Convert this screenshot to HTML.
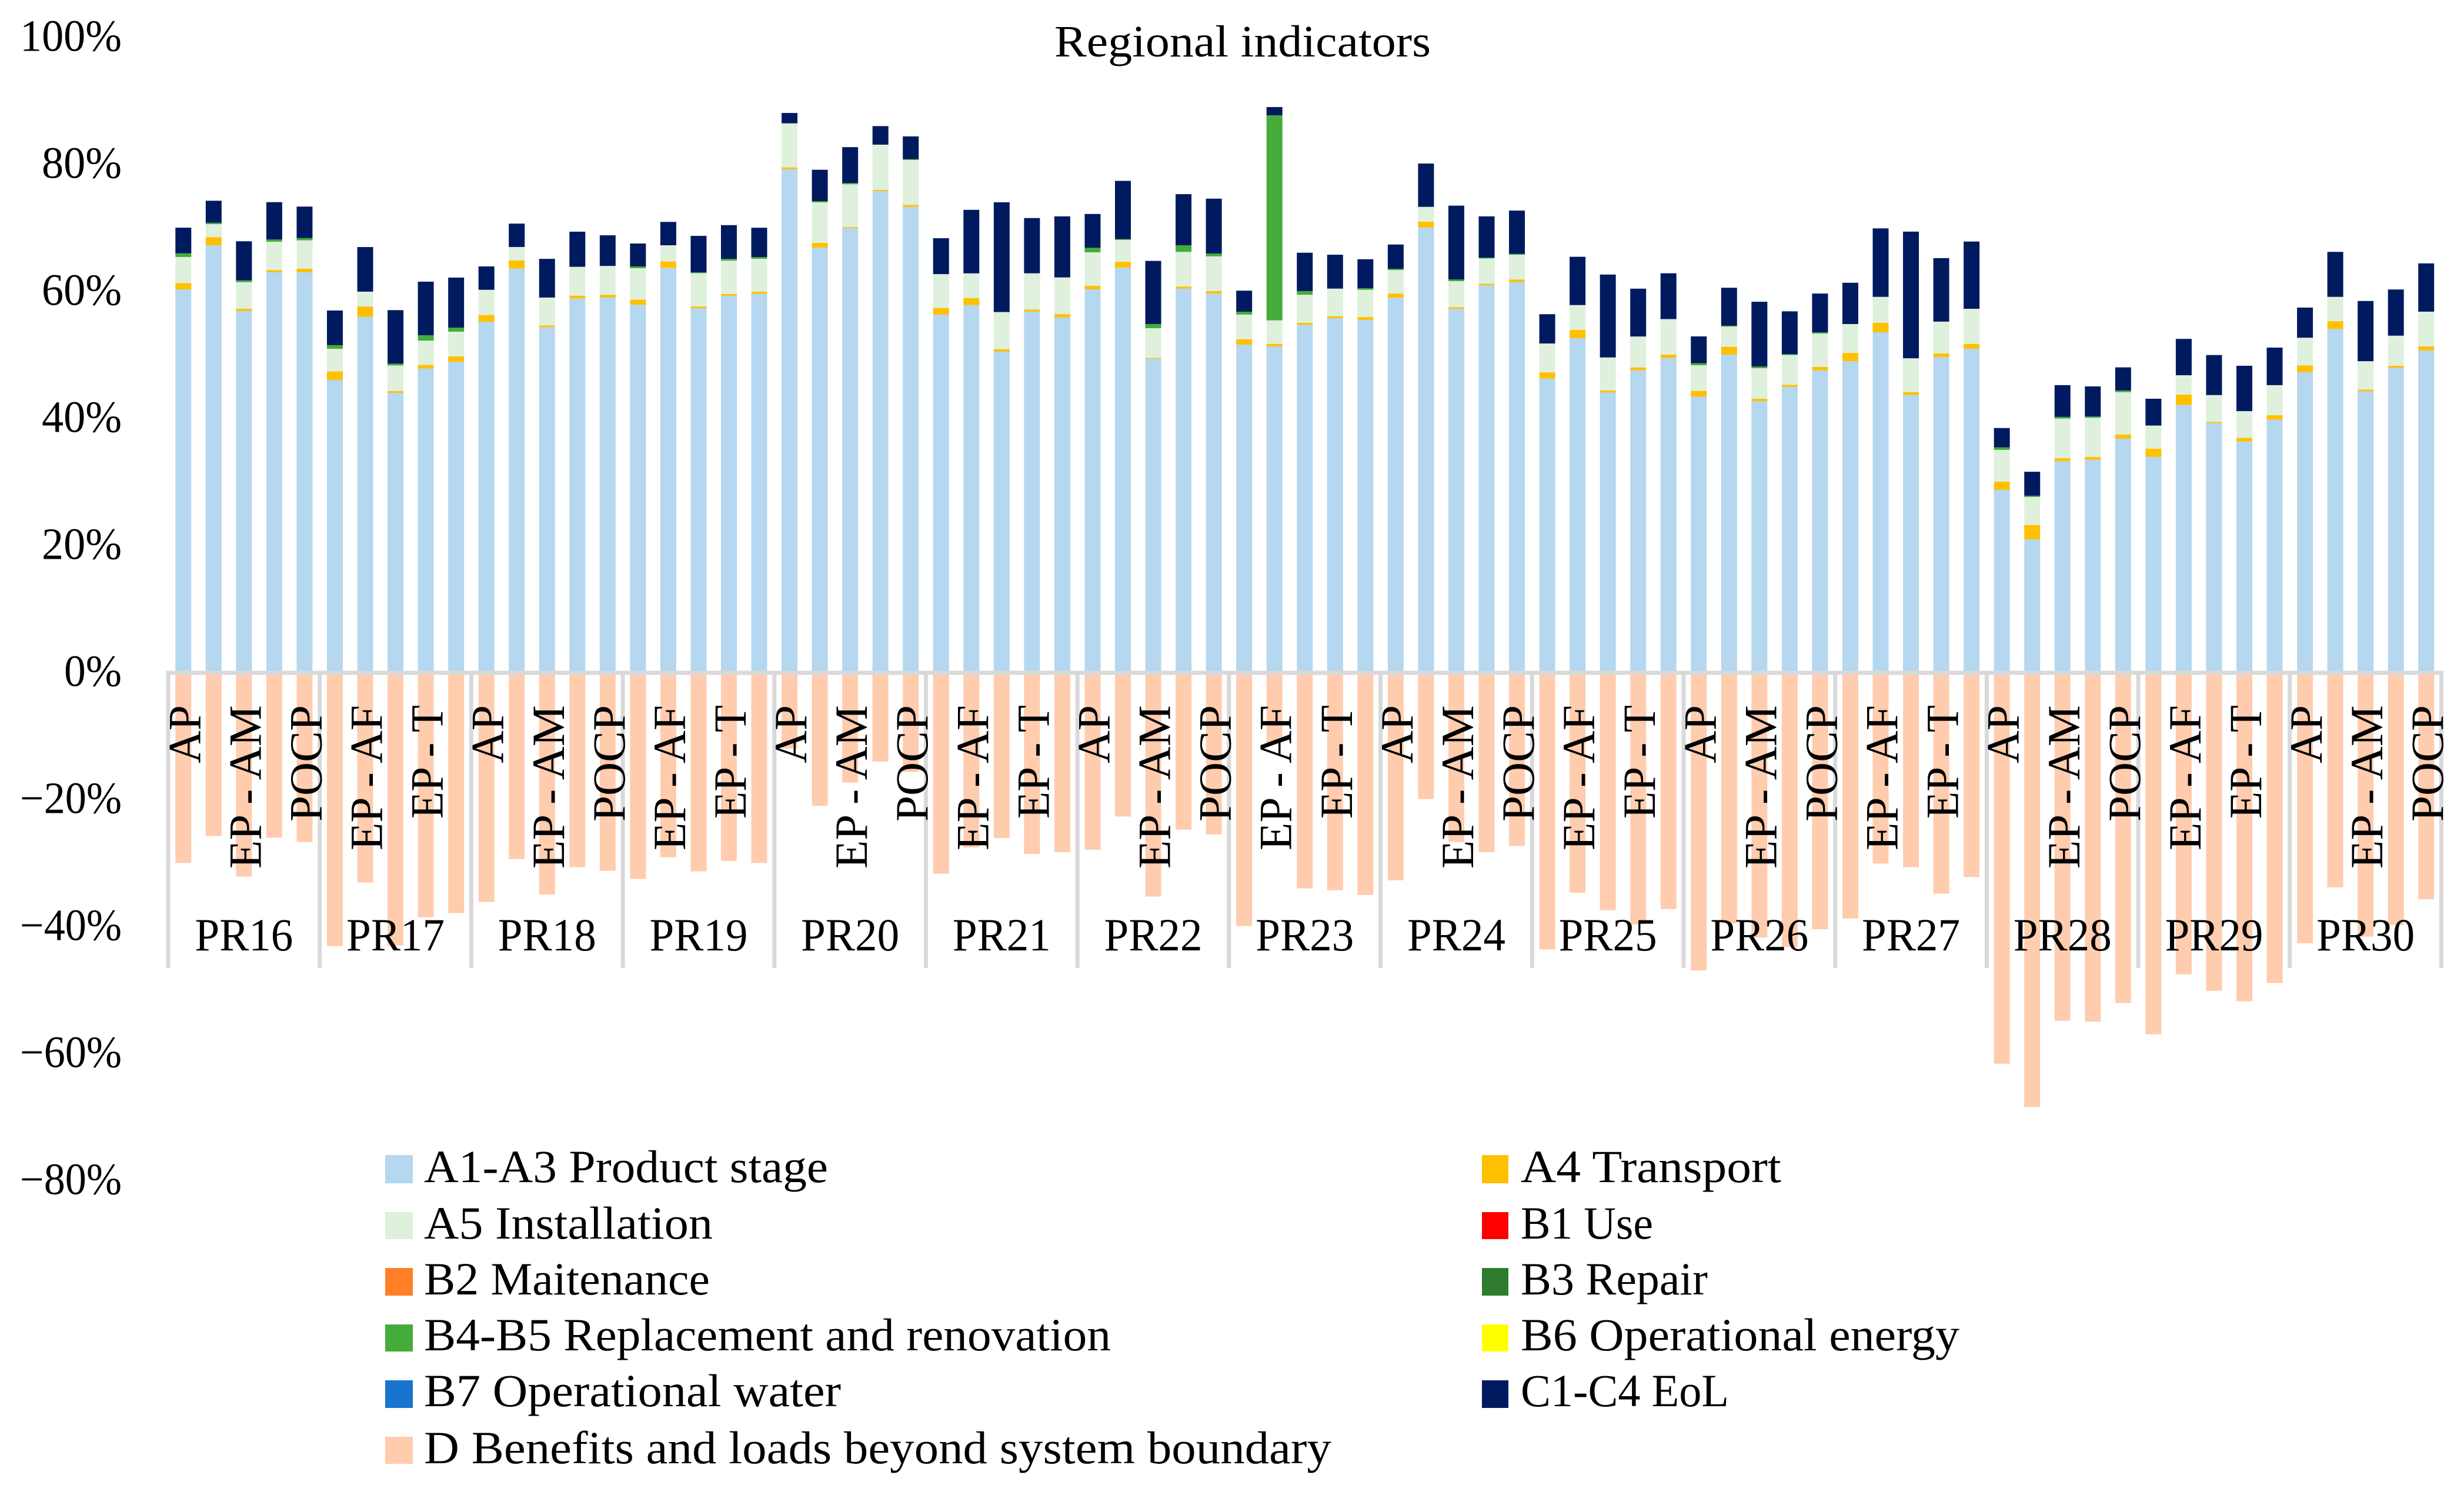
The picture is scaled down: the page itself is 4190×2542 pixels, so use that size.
<!DOCTYPE html>
<html lang="en">
<head>
<meta charset="utf-8">
<title>Regional indicators</title>
<style>
  html, body { margin: 0; padding: 0; background: #ffffff; }
  body { width: 4190px; height: 2542px; overflow: hidden; }
  svg { display: block; }
  text { font-family: "Liberation Serif", "DejaVu Serif", serif; fill: #000000; }
</style>
</head>
<body>
<svg id="chart" xmlns="http://www.w3.org/2000/svg" width="4190" height="2542" viewBox="0 0 4190 2542">
  <rect x="0" y="0" width="4190" height="2542" fill="#ffffff"/>
  <g id="bars"></g>
  <g id="axes"></g>
  <g id="labels"></g>
  <text x="1793" y="96" font-size="76" textLength="640" lengthAdjust="spacingAndGlyphs">Regional indicators</text>

  <g font-size="78">
    <g>
      <rect x="655" y="1964" width="47" height="48" fill="#B5D7F0"/>
      <text x="721" y="2010" textLength="687" lengthAdjust="spacingAndGlyphs">A1-A3 Product stage</text>
    </g>
    <g>
      <rect x="655" y="2061" width="47" height="46" fill="#DFF0DC"/>
      <text x="721" y="2106" textLength="491" lengthAdjust="spacingAndGlyphs">A5 Installation</text>
    </g>
    <g>
      <rect x="655" y="2156" width="47" height="47" fill="#FF7F27"/>
      <text x="721" y="2201" textLength="486" lengthAdjust="spacingAndGlyphs">B2 Maitenance</text>
    </g>
    <g>
      <rect x="655" y="2252" width="47" height="46" fill="#43AC3A"/>
      <text x="721" y="2296" textLength="1168" lengthAdjust="spacingAndGlyphs">B4-B5 Replacement and renovation</text>
    </g>
    <g>
      <rect x="655" y="2347" width="47" height="47" fill="#1874CD"/>
      <text x="721" y="2391" textLength="709" lengthAdjust="spacingAndGlyphs">B7 Operational water</text>
    </g>
    <g>
      <rect x="655" y="2443" width="47" height="46" fill="#FFCCAE"/>
      <text x="721" y="2488" textLength="1543" lengthAdjust="spacingAndGlyphs">D Benefits and loads beyond system boundary</text>
    </g>
    <g>
      <rect x="2520" y="1964" width="45" height="48" fill="#FFC000"/>
      <text x="2586" y="2010" textLength="443" lengthAdjust="spacingAndGlyphs">A4 Transport</text>
    </g>
    <g>
      <rect x="2520" y="2061" width="45" height="46" fill="#FF0000"/>
      <text x="2586" y="2106" textLength="225" lengthAdjust="spacingAndGlyphs">B1 Use</text>
    </g>
    <g>
      <rect x="2520" y="2156" width="45" height="47" fill="#2E7D2E"/>
      <text x="2586" y="2201" textLength="318" lengthAdjust="spacingAndGlyphs">B3 Repair</text>
    </g>
    <g>
      <rect x="2520" y="2252" width="45" height="46" fill="#FFFF00"/>
      <text x="2586" y="2296" textLength="746" lengthAdjust="spacingAndGlyphs">B6 Operational energy</text>
    </g>
    <g>
      <rect x="2520" y="2347" width="45" height="47" fill="#001A5F"/>
      <text x="2586" y="2391" textLength="354" lengthAdjust="spacingAndGlyphs">C1-C4 EoL</text>
    </g>
  </g>
</svg>

<script>
const groups = ["PR16","PR17","PR18","PR19","PR20","PR21","PR22","PR23","PR24","PR25","PR26","PR27","PR28","PR29","PR30"];
const indicators = ["AP","EP - AF","EP - AM","EP - T","POCP"];
const tickValues = [100,80,60,40,20,0,-20,-40,-60,-80];

const a1a3 = [
  60.37,67.31,56.97,63.06,63.06,
  46.12,56.04,44.07,47.90,48.96,
  55.27,63.63,54.41,58.95,59.09,
  57.96,63.77,57.39,59.37,59.66,
  79.29,66.92,69.98,75.82,73.35,
  56.40,57.89,50.56,56.86,55.95,
  60.36,63.81,49.45,60.49,59.71,
  51.66,51.40,54.78,55.82,55.56,
  59.06,70.11,57.31,61.01,61.53,
  46.33,52.70,44.13,47.63,49.58,
  43.48,50.10,42.76,45.03,47.63,
  49.06,53.61,43.74,49.71,51.01,
  28.80,21.00,33.34,33.54,36.85,
  33.99,42.18,39.32,36.40,39.84,
  47.31,54.13,44.32,48.02,50.75
];
const a4 = [
  0.99,1.28,0.35,0.35,0.57,
  1.35,1.63,0.28,0.57,0.85,
  1.06,1.28,0.28,0.43,0.43,
  0.78,0.99,0.28,0.28,0.35,
  0.28,0.78,0.19,0.19,0.32,
  1.04,1.10,0.39,0.32,0.52,
  0.58,0.91,0.13,0.32,0.39,
  0.84,0.39,0.32,0.32,0.45,
  0.65,0.91,0.26,0.26,0.39,
  0.97,1.30,0.32,0.45,0.52,
  0.91,1.23,0.39,0.32,0.52,
  1.30,1.49,0.45,0.58,0.78,
  1.30,2.27,0.45,0.45,0.65,
  1.30,1.62,0.19,0.58,0.71,
  1.10,1.23,0.26,0.32,0.65
];
const a5 = [
  4.11,2.05,4.18,4.46,4.46,
  3.54,2.34,4.04,3.83,3.90,
  3.97,2.13,4.39,4.54,4.54,
  4.96,2.55,5.24,5.24,5.17,
  6.94,6.37,6.75,7.14,7.08,
  5.33,3.90,5.85,5.72,5.78,
  5.26,3.44,4.68,5.46,5.46,
  3.90,3.70,4.42,4.35,4.29,
  3.70,2.34,4.09,3.96,3.90,
  4.55,3.90,5.20,4.87,5.59,
  4.03,3.18,4.81,4.68,5.26,
  4.55,4.09,5.33,5.00,5.52,
  5.00,4.42,6.24,6.17,6.69,
  3.64,3.05,4.22,4.22,4.74,
  4.35,3.83,4.48,4.74,5.46
];
const b4b5 = [
  0.57,0.21,0.28,0.35,0.35,
  0.57,0,0.28,0.85,0.64,
  0,0,0,0,0,
  0.28,0,0.14,0.28,0.28,
  0,0.19,0.19,0,0.13,
  0,0,0,0,0,
  0.71,0.13,0.65,1.04,0.45,
  0.45,32.28,0.58,0,0.26,
  0.19,0,0.26,0.13,0.13,
  0,0,0,0,0,
  0.32,0.13,0.26,0.13,0.19,
  0,0,0,0,0,
  0.39,0.19,0.26,0.19,0.26,
  0,0,0,0,0,
  0,0,0,0,0
];
const c1c4 = [
  4.04,3.47,6.16,5.88,4.96,
  5.46,7.02,8.43,8.43,7.87,
  3.68,3.68,6.09,5.53,4.82,
  3.61,3.68,5.74,5.31,4.61,
  1.63,4.94,5.65,2.92,3.57,
  5.65,10.00,17.28,8.70,9.61,
  5.33,9.16,9.94,8.05,8.64,
  3.31,1.30,6.04,5.33,4.55,
  3.83,6.82,11.63,6.50,6.82,
  4.61,7.60,13.05,7.53,7.21,
  4.22,5.98,10.20,6.75,6.11,
  6.50,10.78,19.94,10.00,10.59,
  3.05,3.77,5.00,4.74,3.64,
  4.22,5.72,6.30,7.14,5.91,
  4.74,7.08,9.48,7.27,7.60
];
const dBenefits = [
  -29.94,-25.69,-32.07,-25.97,-26.63,
  -43.02,-33.01,-42.93,-38.49,-37.83,
  -36.08,-29.33,-34.90,-30.60,-31.17,
  -32.44,-29.04,-31.26,-29.61,-29.94,
  -11.92,-20.93,-17.29,-13.98,-15.62,
  -31.64,-27.50,-26.02,-28.52,-28.24,
  -27.86,-22.62,-35.23,-24.70,-25.43,
  -39.86,-10.99,-33.95,-34.23,-34.97,
  -32.66,-19.88,-26.63,-28.24,-27.25,
  -43.55,-34.62,-37.38,-39.60,-37.19,
  -46.85,-39.44,-41.67,-43.15,-40.37,
  -38.68,-30.03,-30.60,-34.76,-32.16,
  -61.54,-68.35,-54.79,-54.93,-52.00,
  -56.91,-47.46,-50.06,-51.72,-48.83,
  -42.56,-33.77,-41.55,-39.69,-35.65
];

const NS = "http://www.w3.org/2000/svg";
const plot = { left: 286, band: 51.54, barWidth: 27, zeroY: 1144, perPct: 10.8, groupBottom: 1646 };
const perGroup = indicators.length;

function xBand(i) { return plot.left + plot.band * i; }
function xCenter(i) { return xBand(i) + plot.band / 2; }
function yValue(v) { return plot.zeroY - v * plot.perPct; }

const barsLayer = document.getElementById("bars");
const axesLayer = document.getElementById("axes");
const labelsLayer = document.getElementById("labels");

function drawSegment(i, from, to, fill, name) {
  const r = document.createElementNS(NS, "rect");
  r.setAttribute("x", (xCenter(i) - plot.barWidth / 2).toFixed(2));
  r.setAttribute("y", Math.min(yValue(from), yValue(to)).toFixed(2));
  r.setAttribute("width", plot.barWidth);
  r.setAttribute("height", Math.abs(yValue(from) - yValue(to)).toFixed(2));
  r.setAttribute("fill", fill);
  
  
  barsLayer.appendChild(r);
}

const stackSeries = [
  { key: "a1-a3", values: a1a3, fill: "#B5D7F0" },
  { key: "a4", values: a4, fill: "#FFC000" },
  { key: "a5", values: a5, fill: "#DFF0DC" },
  { key: "b4-b5", values: b4b5, fill: "#43AC3A" },
  { key: "c1-c4", values: c1c4, fill: "#001A5F" }
];

a1a3.forEach(function (_, i) {
  let base = 0;
  stackSeries.forEach(function (s) {
    const v = s.values[i];
    if (v > 0) {
      drawSegment(i, base, base + v, s.fill, "bar-" + s.key + "-" + (i + 1));
      base += v;
    }
  });
  drawSegment(i, 0, dBenefits[i], "#FFCCAE", "bar-d-" + (i + 1));
});

function axisLine(x1, y1, x2, y2, name) {
  const l = document.createElementNS(NS, "line");
  l.setAttribute("x1", x1);
  l.setAttribute("y1", y1);
  l.setAttribute("x2", x2);
  l.setAttribute("y2", y2);
  l.setAttribute("stroke", "#D9D9D9");
  l.setAttribute("stroke-width", "7");
  
  
  axesLayer.appendChild(l);
}

const plotRight = xBand(groups.length * perGroup);
axisLine(plot.left - 3.5, plot.zeroY, plotRight + 3.5, plot.zeroY, "zero-axis-line");
for (let g = 0; g <= groups.length; g++) {
  const gx = xBand(g * perGroup);
  axisLine(gx, plot.zeroY, gx, plot.groupBottom, "group-separator-" + g);
}

function addText(str, x, y, size, width, name, transform) {
  const t = document.createElementNS(NS, "text");
  t.textContent = str;
  t.setAttribute("x", x);
  t.setAttribute("y", y);
  t.setAttribute("font-size", size);
  t.setAttribute("textLength", width);
  t.setAttribute("lengthAdjust", "spacingAndGlyphs");
  if (transform) t.setAttribute("transform", transform);
  
  
  labelsLayer.appendChild(t);
}

const tickRight = 207;
tickValues.forEach(function (v) {
  const str = (v < 0 ? "\u2212" : "") + Math.abs(v) + "%";
  const digits = String(Math.abs(v)).length;
  const width = v < 0 ? 173 : [98, 136, 173][digits - 1];
  addText(str, tickRight - width, yValue(v) + 22.5, 76, width, "y-tick-label-" + (v < 0 ? "minus-" : "") + Math.abs(v));
});

const indicatorLength = { "AP": 99, "EP - AF": 247, "EP - AM": 278, "EP - T": 193, "POCP": 198 };
const labelTop = 1199;
for (let i = 0; i < groups.length * perGroup; i += 2) {
  const text = indicators[i % perGroup];
  const len = indicatorLength[text];
  const bx = xCenter(i) + 28.5;
  const by = labelTop + len;
  addText(text, bx, by, 78, len, "category-label-" + (i + 1), "rotate(-90 " + bx.toFixed(2) + " " + by + ")");
}

groups.forEach(function (g, k) {
  const cx = xBand(k * perGroup) + plot.band * perGroup / 2;
  addText(g, cx - 83.5, 1616, 78, 167, "group-label-" + g.toLowerCase());
});
</script>
</body>
</html>
